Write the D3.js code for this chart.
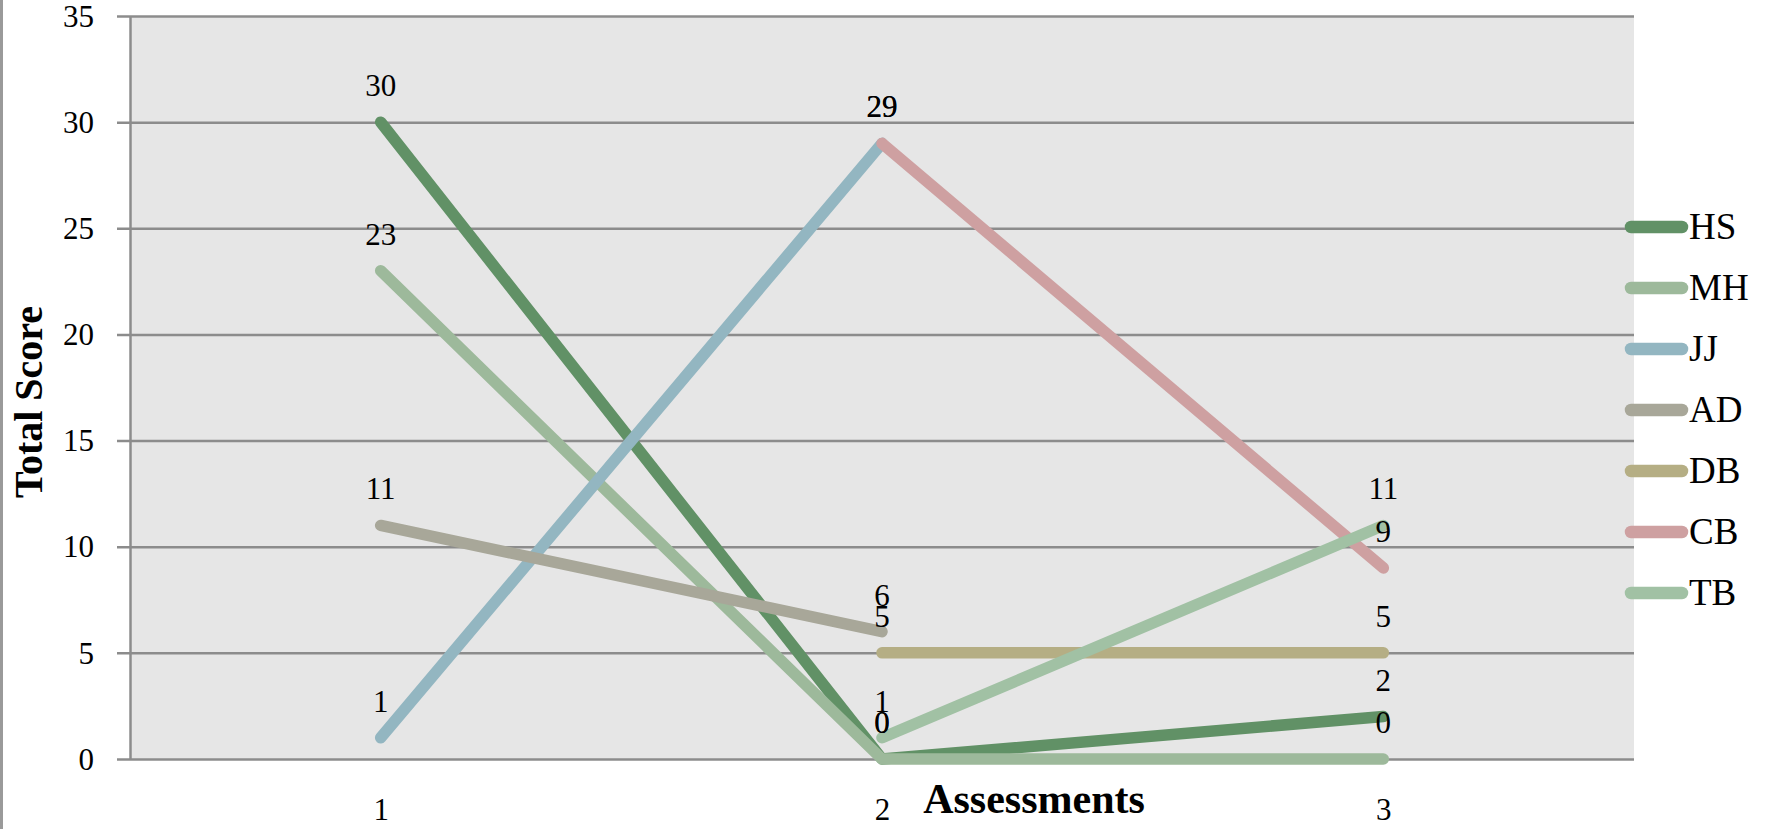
<!DOCTYPE html>
<html>
<head>
<meta charset="utf-8">
<script src="https://cdn.jsdelivr.net/npm/d3@7/dist/d3.min.js"></script>
<style>
  html, body { margin: 0; padding: 0; background: #ffffff; }
  svg { display: block; }
  text { font-family: "Liberation Serif", "DejaVu Serif", serif; fill: #000; }
</style>
</head>
<body>
<svg id="chart" width="1769" height="829"></svg>
<script>
// Assessment rounds on the x axis
const assessments = [1, 2, 3];

// Student codes, in legend order
const students = ["HS", "MH", "JJ", "AD", "DB", "CB", "TB"];

// Total score per assessment (null = not assessed)
const scoresHS = [30, 0, 2];
const scoresMH = [23, 0, 0];
const scoresJJ = [1, 29, null];
const scoresAD = [11, 6, null];
const scoresDB = [null, 5, 5];
const scoresCB = [null, 29, 9];
const scoresTB = [null, 1, 11];

const yTicks = [0, 5, 10, 15, 20, 25, 30, 35];

const colors = ["#619166", "#9db99b", "#93b6c1", "#a8a799", "#b5ae84", "#cea0a1", "#a1c1a4"];

const seriesValues = [scoresHS, scoresMH, scoresJJ, scoresAD, scoresDB, scoresCB, scoresTB];
const series = students.map((name, i) => ({
  name,
  color: colors[i],
  points: assessments.map((a, j) => ({ a, v: seriesValues[i][j] }))
}));

const svg = d3.select("#chart");

// Plot area
const plot = { left: 130, right: 1634, top: 16, bottom: 759 };

const x = d3.scalePoint()
  .domain(assessments)
  .range([plot.left, plot.right])
  .padding(0.5);

const y = d3.scaleLinear()
  .domain([0, 35])
  .range([plot.bottom, plot.top]);

// Thin border along the left edge of the page
svg.append("rect")
  .attr("x", 0).attr("y", 0)
  .attr("width", 3).attr("height", 829)
  .attr("fill", "#9a9a9a");

svg.append("rect")
  .attr("x", plot.left).attr("y", plot.top)
  .attr("width", plot.right - plot.left)
  .attr("height", plot.bottom - plot.top)
  .attr("fill", "#e6e6e6");

// Y axis with grid lines that start at the outer tick mark
const yAxis = d3.axisLeft(y)
  .tickValues(yTicks)
  .tickSizeInner(-(plot.right - plot.left))
  .tickSizeOuter(0)
  .tickPadding(0);

const gy = svg.append("g")
  .attr("transform", `translate(${plot.left},0)`)
  .call(yAxis);

gy.select(".domain")
  .attr("stroke", "#8c8c8c")
  .attr("stroke-width", 2.5);

gy.selectAll(".tick line")
  .attr("x1", -13)
  .attr("x2", plot.right - plot.left)
  .attr("stroke", "#8c8c8c")
  .attr("stroke-width", 2.5);

gy.selectAll(".tick text")
  .attr("x", -36)
  .attr("dy", "0.33em")
  .attr("font-family", "Liberation Serif, serif")
  .attr("font-size", 31)
  .attr("fill", "#000");

// X axis labels under the plot
const xAxis = d3.axisBottom(x).tickSize(0).tickPadding(0);
const gx = svg.append("g")
  .attr("transform", `translate(0,${plot.bottom})`)
  .call(xAxis);
gx.select(".domain").remove();
gx.selectAll(".tick text")
  .attr("y", 61)
  .attr("dy", 0)
  .attr("font-family", "Liberation Serif, serif")
  .attr("font-size", 31)
  .attr("fill", "#000");

// Series lines
const line = d3.line()
  .defined(d => d.v !== null)
  .x(d => x(d.a))
  .y(d => y(d.v));

svg.append("g")
  .selectAll("path")
  .data(series)
  .join("path")
  .attr("d", d => line(d.points))
  .attr("fill", "none")
  .attr("stroke", d => d.color)
  .attr("stroke-width", 11.5)
  .attr("stroke-linecap", "round")
  .attr("stroke-linejoin", "round");

// Value labels above each point
const labels = series.flatMap(s => s.points.filter(p => p.v !== null));
svg.append("g")
  .selectAll("text")
  .data(labels)
  .join("text")
  .attr("x", d => x(d.a))
  .attr("y", d => y(d.v) - 26)
  .attr("text-anchor", "middle")
  .attr("font-size", 31)
  .text(d => d.v);

// Axis titles
svg.append("text")
  .attr("transform", `translate(42,402) rotate(-90)`)
  .attr("text-anchor", "middle")
  .attr("font-weight", "bold")
  .attr("font-size", 40)
  .text("Total Score");

svg.append("text")
  .attr("x", 1034)
  .attr("y", 813)
  .attr("text-anchor", "middle")
  .attr("font-weight", "bold")
  .attr("font-size", 42)
  .text("Assessments");

// Legend
const legend = svg.append("g")
  .selectAll("g")
  .data(series)
  .join("g")
  .attr("transform", (d, i) => `translate(0,${227 + i * 61})`);

legend.append("line")
  .attr("x1", 1631).attr("x2", 1682)
  .attr("y1", 0).attr("y2", 0)
  .attr("stroke", d => d.color)
  .attr("stroke-width", 12.5)
  .attr("stroke-linecap", "round");

legend.append("text")
  .attr("x", 1689)
  .attr("y", 12)
  .attr("font-size", 37)
  .text(d => d.name);
</script>
</body>
</html>
